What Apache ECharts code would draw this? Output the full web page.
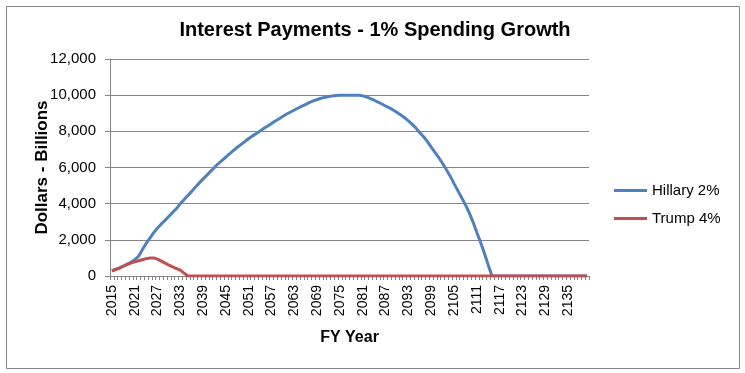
<!DOCTYPE html>
<html>
<head>
<meta charset="utf-8">
<script src="https://cdn.jsdelivr.net/npm/echarts@6/dist/echarts.min.js"></script>
<style>html,body{margin:0;padding:0;background:#fff}#c{width:745px;height:373px}</style>
</head>
<body>
<div id="c"></div>
<script>
var startYear = 2015, endYear = 2140;
var years = [];
for (var y = startYear; y <= endYear; y++) years.push(String(y));

var hillary = [
  290, 360, 450, 540, 640, 760, 900, 1080, 1450, 1800,
  2100, 2400, 2650, 2880, 3080, 3300, 3520, 3730, 4000, 4230,
  4460, 4680, 4920, 5150, 5370, 5580, 5800, 6010, 6220, 6400,
  6580, 6770, 6950, 7120, 7280, 7440, 7600, 7750, 7880, 8020,
  8170, 8300, 8440, 8570, 8700, 8830, 8960, 9070, 9180, 9290,
  9390, 9490, 9600, 9680, 9760, 9830, 9880, 9930, 9960, 9980,
  9990, 10000, 10000, 10000, 10000, 9990, 9960, 9900, 9810, 9720,
  9620, 9510, 9400, 9300, 9180, 9040, 8900, 8750, 8580, 8380,
  8180, 7920, 7700, 7430, 7130, 6840, 6540, 6220, 5870, 5520,
  5110, 4720, 4330, 3940, 3490, 2980, 2400, 1850, 1240, 600,
  0, 0, 0, 0, 0, 0, 0, 0, 0, 0,
  0, 0, 0, 0, 0, 0, 0, 0, 0, 0,
  0, 0, 0, 0, 0, 0
];
var trump = [
  290, 360, 440, 540, 640, 720, 780, 840, 900, 960,
  990, 1000, 930, 820, 710, 600, 500, 410, 320, 160,
  0, 0, 0, 0, 0, 0, 0, 0, 0, 0,
  0, 0, 0, 0, 0, 0, 0, 0, 0, 0,
  0, 0, 0, 0, 0, 0, 0, 0, 0, 0,
  0, 0, 0, 0, 0, 0, 0, 0, 0, 0,
  0, 0, 0, 0, 0, 0, 0, 0, 0, 0,
  0, 0, 0, 0, 0, 0, 0, 0, 0, 0,
  0, 0, 0, 0, 0, 0, 0, 0, 0, 0,
  0, 0, 0, 0, 0, 0, 0, 0, 0, 0,
  0, 0, 0, 0, 0, 0, 0, 0, 0, 0,
  0, 0, 0, 0, 0, 0, 0, 0, 0, 0,
  0, 0, 0, 0, 0, 0
];
var seriesNames = ['Hillary 2%', 'Trump 4%'];
var yTicks = {min: 0, max: 12000, interval: 2000};

var FONT = 'Liberation Sans, Arial, sans-serif';
var chart = echarts.init(document.getElementById('c'));
chart.setOption({
  animation: false,
  backgroundColor: '#fff',
  graphic: [{
    type: 'rect', left: 4, top: 4,
    shape: {width: 733, height: 362},
    style: {fill: 'none', stroke: '#868686', lineWidth: 1}
  }],
  title: {
    text: 'Interest Payments - 1% Spending Growth',
    left: 370, top: 15, textAlign: 'center',
    textStyle: {fontFamily: FONT, fontSize: 20, fontWeight: 'bold', color: '#000'}
  },
  legend: {
    orient: 'vertical', left: 609, top: 178, itemGap: 13,
    itemWidth: 33, itemHeight: 3, icon: 'rect',
    textStyle: {fontFamily: FONT, fontSize: 15, color: '#000'},
    data: seriesNames
  },
  grid: {left: 110, right: 156, top: 59, bottom: 97},
  xAxis: {
    type: 'category', data: years, boundaryGap: true,
    name: 'FY Year', nameLocation: 'middle', nameGap: 54, nameMoveOverlap: false,
    nameTextStyle: {fontFamily: FONT, fontSize: 16, fontWeight: 'bold', color: '#000'},
    axisLine: {lineStyle: {color: '#868686'}},
    axisTick: {show: true, interval: 0, length: 4, lineStyle: {color: '#868686'}},
    axisLabel: {interval: 5, rotate: 90, fontFamily: FONT, fontSize: 14, color: '#000', margin: 9}
  },
  yAxis: {
    type: 'value', min: yTicks.min, max: yTicks.max, interval: yTicks.interval,
    name: 'Dollars - Billions', nameLocation: 'middle', nameGap: 59, nameRotate: 90,
    nameMoveOverlap: false,
    nameTextStyle: {fontFamily: FONT, fontSize: 17, fontWeight: 'bold', color: '#000'},
    axisLine: {show: true, lineStyle: {color: '#868686'}},
    axisTick: {show: true, length: 5, lineStyle: {color: '#868686'}},
    axisLabel: {fontFamily: FONT, fontSize: 15, color: '#000', margin: 14,
      formatter: function (v) { return v.toLocaleString('en-US'); }},
    splitLine: {lineStyle: {color: '#868686'}}
  },
  series: [
    {name: seriesNames[0], type: 'line', data: hillary, symbol: 'none',
     lineStyle: {width: 3, color: '#4F81BD'}, itemStyle: {color: '#4F81BD'}, z: 2},
    {name: seriesNames[1], type: 'line', data: trump, symbol: 'none',
     lineStyle: {width: 3, color: '#C0504D'}, itemStyle: {color: '#C0504D'}, z: 3}
  ]
});
</script>
</body>
</html>
